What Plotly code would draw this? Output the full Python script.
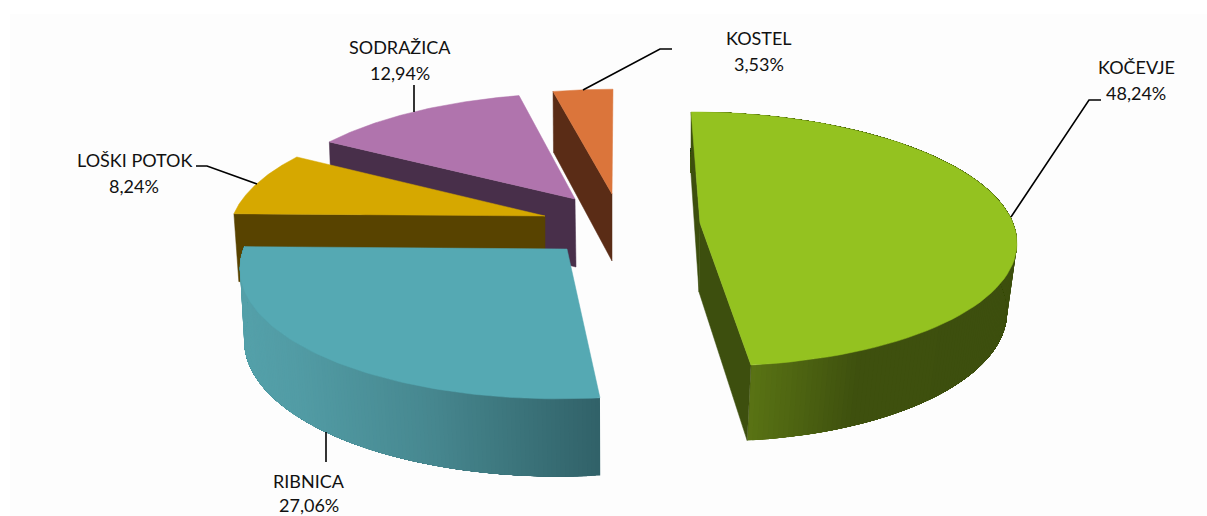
import math
import plotly.graph_objects as go

# ---- data ----
names = ["KOČEVJE", "RIBNICA", "LOŠKI POTOK", "SODRAŽICA", "KOSTEL"]
shares = [48.24, 27.06, 8.24, 12.94, 3.53]

# ---- style ----
top_colors = ["#94C220", "#55A9B3", "#D6A800", "#B074AD", "#DB753B"]
wall_colors = ["#3D4F0E", "#478890", "#584300", "#482F4A", "#5A2C16"]
# gradient of the round wall, by screen x
wall_stops = {
    0: [(749, (90, 116, 20)), (860, (62, 80, 14)), (1020, (61, 79, 14))],
    1: [(245, (84, 160, 169)), (292, (82, 156, 165)), (425, (71, 136, 144)), (600, (49, 98, 104))],
}
WALL_BANDS = {0: 200, 1: 140}
# projection of each slice: apex, radii, shear, perspective for top and bottom faces
geom = [
    dict(top=(700, 223, 313, 125, -10, .126), bot=(699, 292, 305, 132.6, -9, .114)),
    dict(top=(567, 249, 323.5, 131, 7, .126), bot=(567, 322, 320, 137, 6, .114)),
    dict(top=(545, 216, 312, 123, 8, .126), bot=(545, 284, 307, 129, 7, .114)),
    dict(top=(575, 199, 307, 119, 4.8, .126), bot=(576, 267, 303, 125, 4, .114)),
    dict(top=(612, 194, 306, 118, 1.1, .126), bot=(612, 261, 300, 124, 1, .114)),
]
# label anchor centres and leader polylines
label_pos = [(1136, 67), (309, 481), (134, 160), (400, 47), (759, 38)]
leaders = [
    [(1101, 100), (1089, 100), (1011, 217)],
    [(326, 432), (326, 462)],
    [(196, 166), (207, 166), (257, 184)],
    [(414, 112), (414, 85)],
    [(672, 49), (660, 49), (583, 90)],
]
LINE_GAP = 26
MAX_LABEL_Y = 505
FONT = dict(family="Lato, Carlito, sans-serif", size=18, color="#111111")

total = sum(shares)
bounds = [0]
for s in shares:
    bounds.append(bounds[-1] + s / total * 2 * math.pi)


def rim(params, th):
    ax, ay, rx, ry, sh, k = params
    X, Y = math.sin(th), math.cos(th)
    P = 1 / (1 + k * Y)
    return ax + (rx * X + sh * Y) * P, ay - ry * Y * P


def arc(params, a, b, n=80):
    return [rim(params, a + (b - a) * i / n) for i in range(n + 1)]


def lerp_color(stops, x):
    c = stops[0][1] if x <= stops[0][0] else stops[-1][1]
    for (x0, c0), (x1, c1) in zip(stops, stops[1:]):
        if x0 <= x <= x1:
            t = (x - x0) / (x1 - x0)
            c = tuple(c0[j] + (c1[j] - c0[j]) * t for j in range(3))
            break
    return "rgb(%d,%d,%d)" % tuple(round(v) for v in c)


fig = go.Figure()


def poly(pts, color, name="", lw=0):
    xs = [p[0] for p in pts] + [pts[0][0]]
    ys = [p[1] for p in pts] + [pts[0][1]]
    fig.add_trace(go.Scatter(x=xs, y=ys, mode="lines", fill="toself", fillcolor=color,
                             line=dict(color=color, width=lw), hoverinfo="skip",
                             showlegend=False, name=name))


def draw_slice(i):
    a, b = bounds[i], bounds[i + 1]
    g = geom[i]
    top, bot = g["top"], g["bot"]
    apex_t, apex_b = (top[0], top[1]), (bot[0], bot[1])
    if i in wall_stops:
        n = WALL_BANDS[i]
        step = (b - a) / n
        for j in range(n):
            # every band runs on to the far end of the wall, so the next one
            # paints over its edge and no seams show
            if i == 0:
                t0, t1 = a, b - step * j
                cx = rim(top, t1 - step / 2)[0]
            else:
                t0, t1 = a + step * j, b
                cx = rim(top, t0 + step / 2)[0]
            pts = arc(top, t0, t1, 50) + arc(bot, t1, t0, 50)
            poly(pts, lerp_color(wall_stops[i], cx), names[i] + " wall", 0)
    if i == 0:
        poly([rim(top, a), apex_t, apex_b, rim(bot, a)], wall_colors[i], names[i] + " cut", 0.5)
        poly([apex_t, rim(top, b), rim(bot, b), apex_b], wall_colors[i], names[i] + " cut", 0.5)
    elif i != 1:
        poly([rim(top, a), apex_t, apex_b, rim(bot, a)], wall_colors[i], names[i] + " cut", 0.5)
    poly([apex_t] + arc(top, a, b), top_colors[i], names[i], 0.5)


for i in [4, 3, 2, 1, 0]:
    draw_slice(i)

for line in leaders:
    fig.add_trace(go.Scatter(x=[p[0] for p in line], y=[p[1] for p in line], mode="lines",
                             line=dict(color="#000000", width=1.6), hoverinfo="skip",
                             showlegend=False))

annotations = []
for name, share, (x, y) in zip(names, shares, label_pos):
    value_text = f"{share:.2f}%".replace(".", ",")
    for txt, yy in ((name, y), (value_text, y + LINE_GAP)):
        annotations.append(dict(x=x, y=min(yy, MAX_LABEL_Y), xref="x", yref="y", text=txt,
                                showarrow=False, xanchor="center", yanchor="middle", font=FONT))

fig.update_layout(
    width=1207, height=516, margin=dict(l=0, r=0, t=0, b=0, pad=0),
    paper_bgcolor="#FFFFFF", plot_bgcolor="#FFFFFF", showlegend=False,
    xaxis=dict(range=[0, 1207], visible=False, fixedrange=True),
    yaxis=dict(range=[516, 0], visible=False, fixedrange=True),
    annotations=annotations,
    shapes=[dict(type="rect", xref="x", yref="y", x0=10, y0=14, x1=1207, y1=516,
                 fillcolor="#FDFDFD", line_width=0, layer="below")],
)
fig.write_html("out.html", config=dict(displayModeBar=False),
               post_script="document.body.style.margin='0';document.body.style.overflow='hidden';")
